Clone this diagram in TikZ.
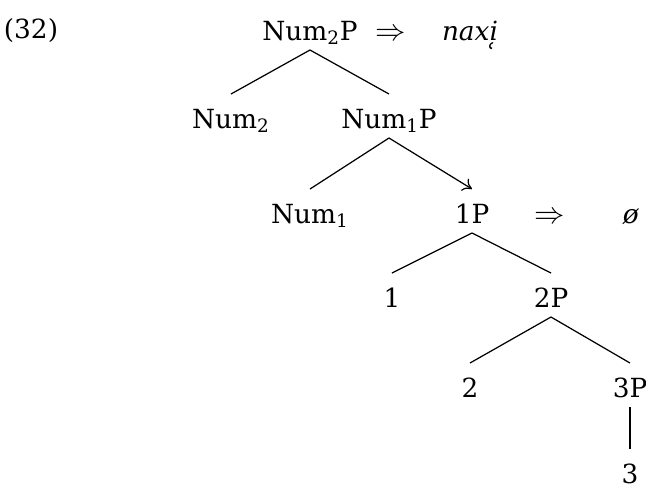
\documentclass[tikz,border=0pt]{standalone}
\usepackage{fontspec}
\setmainfont{DejaVu Serif}
\usetikzlibrary{positioning, arrows, arrows.meta}
\tikzset{
  cat/.style={anchor=base, inner sep=0pt, outer sep=0.1cm,
    text height=0.58cm, text depth=0.1cm},
  gloss/.style={anchor=base, inner sep=0pt},
  arr/.style={gloss, font=\fontsize{18}{20}\selectfont},
  branch/.style={line width=0.7pt}}

\begin{document}
\begin{tikzpicture}[x=0.02cm, y=-0.02cm, font=\fontsize{15}{18}\selectfont]
  \useasboundingbox (0,0) rectangle (646,485);
  \node[gloss] (ex) at (31,38) {(32)};
  % top
  \node[cat] (n2p) at (310,40) {Num\textsubscript{2}P};
  \node[arr] (ra) at (391,40) {$\Rightarrow$};
  \node[gloss] (naxi) at (470,40) {\textit{naxi̜}};
  \node[cat] (n2) at (231,128) {Num\textsubscript{2}};
  \node[cat] (n1p) at (389,128) {Num\textsubscript{1}P};
  \draw[branch] (n2p.south) -- (n2.north);
  \draw[branch] (n2p.south) -- (n1p.north);
  % middle
  \node[cat] (n1) at (310,223) {Num\textsubscript{1}};
  \node[cat] (p1) at (472,223) {1P};
  \node[arr] (rb) at (550,223) {$\Rightarrow$};
  \node[gloss] (zero) at (631,223) {\textit{ø}};
  \draw[branch] (n1p.south) -- (n1.north);
  \draw[branch, -{To[length=5pt, width=8pt]}] (n1p.south) -- (p1.north);
  \node[cat] (one) at (392,307) {1};
  \node[cat] (p2) at (551,307) {2P};
  \draw[branch] (p1.south) -- (one.north);
  \draw[branch] (p1.south) -- (p2.north);
  % bottom
  \node[cat] (two) at (470,397) {2};
  \node[cat] (p3) at (630,397) {3P};
  \draw[branch] (p2.south) -- (two.north);
  \draw[branch] (p2.south) -- (p3.north);
  \node[cat] (three) at (630,483) {3};
  \draw[branch] (p3.south) -- (three.north);
\end{tikzpicture}
\end{document}
